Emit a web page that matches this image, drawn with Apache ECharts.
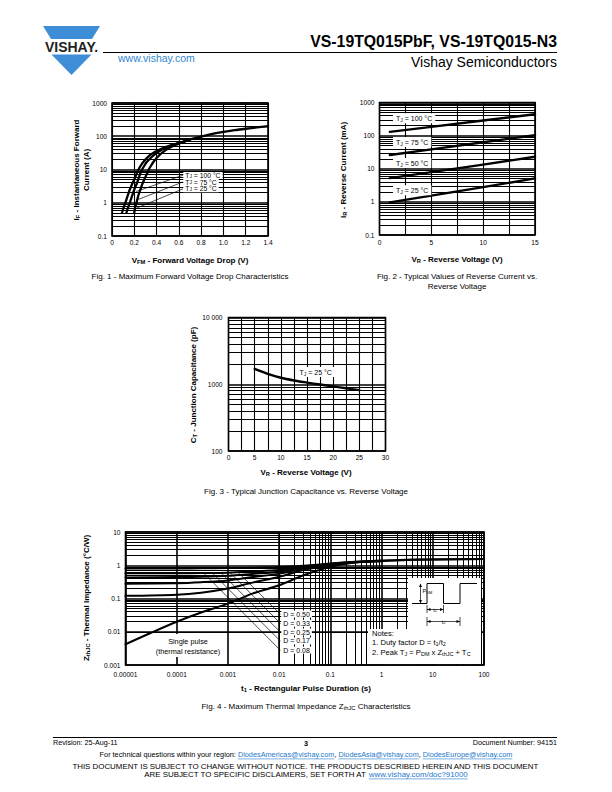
<!DOCTYPE html>
<html>
<head>
<meta charset="utf-8">
<title>VS-19TQ015PbF, VS-19TQ015-N3</title>
<script src="https://cdn.jsdelivr.net/npm/echarts@6.0.0/dist/echarts.min.js"></script>
<style>html,body{margin:0;padding:0;background:#fff;}#c{width:612px;height:792px;}</style>
</head>
<body>
<div id="c"></div>
<script>
// ================= DATA =================
// Fig. 1 - Maximum forward voltage drop (V, A)
const fig1XLabels = ['0', '0.2', '0.4', '0.6', '0.8', '1.0', '1.2', '1.4'];
const fig1YLabels = ['0.1', '1', '10', '100', '1000'];
const fig1TJ100 = [[0.09,0.5],[0.1,0.65],[0.11,0.8],[0.12,1],[0.14,1.6],[0.16,2.5],[0.18,3.6],[0.2,5],[0.22,7.3],[0.24,10.3],[0.27,15],[0.3,20],[0.34,27],[0.38,33],[0.42,38.5],[0.46,44],[0.5,50],[0.55,56],[0.6,63],[0.7,80],[0.8,98],[0.9,117],[1.0,135],[1.1,152],[1.2,168],[1.3,184],[1.4,200]];
const fig1TJ75  = [[0.13,0.5],[0.14,0.65],[0.15,0.8],[0.16,1],[0.18,1.6],[0.2,2.5],[0.22,3.6],[0.235,5],[0.25,7],[0.27,10],[0.29,13],[0.31,16.5],[0.34,21],[0.37,26],[0.4,31],[0.44,38],[0.48,44],[0.52,50],[0.56,56],[0.6,62],[0.65,70],[0.7,79]];
const fig1TJ25  = [[0.2,0.5],[0.205,0.65],[0.21,0.8],[0.22,1],[0.235,1.6],[0.255,2.5],[0.27,3.5],[0.29,5],[0.31,7],[0.33,10],[0.35,13],[0.37,16.5],[0.4,22],[0.43,28],[0.46,34],[0.5,42],[0.53,48],[0.56,53],[0.6,60],[0.65,69],[0.7,79]];
const fig1Names = ['100', '75', '25'];
const fig1LabelAnchors = [[0.64,6.7],[0.64,4.2],[0.64,2.6]];
const fig1LeaderEnds = [[0.22,2.2],[0.22,1.2],[0.225,0.7]];

// Fig. 2 - Reverse current (V, mA)
const fig2XLabels = ['0', '5', '10', '15'];
const fig2YLabels = ['0.1', '1', '10', '100', '1000'];
const fig2TJ100 = [[1,130],[5,184],[10,285],[15,440]];
const fig2TJ75  = [[1,26],[5,38.6],[10,63],[15,103]];
const fig2TJ50  = [[1,5.2],[5,7.9],[10,13.3],[15,23]];
const fig2TJ25  = [[1,0.97],[5,1.55],[10,2.8],[15,5.1]];
const fig2Names = ['100', '75', '50', '25'];
const fig2LabelAnchors = [[1.3,334],[1.3,64],[1.3,14.8],[1.3,2.26]];

// Fig. 3 - Junction capacitance (V, pF)
const fig3XLabels = ['0', '5', '10', '15', '20', '25', '30'];
const fig3YLabels = ['100', '1000', '10 000'];
const fig3TJ25 = [[5,1700],[6,1590],[7.5,1430],[10,1250],[12.5,1140],[15,1060],[17.5,990],[20,930],[22.5,870],[25,815]];
const fig3LabelAnchor = [13,1520];

// Fig. 4 - Thermal impedance (s, degC/W)
const fig4XLabels = ['0.00001', '0.0001', '0.001', '0.01', '0.1', '1', '10', '100'];
const fig4YLabels = ['0.001', '0.01', '0.1', '1', '10'];
const fig4D050 = [[1e-5,0.8],[1e-4,0.8],[3e-4,0.81],[1e-3,0.82],[3e-3,0.84],[1e-2,0.88],[3e-2,0.97],[1e-1,1.12],[3e-1,1.27],[1,1.38],[3,1.46],[10,1.5],[100,1.55]];
const fig4D033 = [[1e-5,0.57],[1e-4,0.57],[3e-4,0.58],[1e-3,0.6],[3e-3,0.65],[1e-2,0.72],[3e-2,0.9],[1e-1,1.1],[3e-1,1.26],[1,1.37]];
const fig4D025 = [[1e-5,0.43],[1e-4,0.44],[3e-4,0.45],[1e-3,0.48],[3e-3,0.55],[1e-2,0.64],[3e-2,0.85],[1e-1,1.08],[3e-1,1.25],[1,1.36]];
const fig4D017 = [[1e-5,0.28],[1e-4,0.29],[3e-4,0.31],[1e-3,0.35],[3e-3,0.44],[1e-2,0.56],[3e-2,0.8],[1e-1,1.05],[3e-1,1.24],[1,1.35]];
const fig4D008 = [[1e-5,0.12],[1e-4,0.13],[3e-4,0.15],[1e-3,0.2],[3e-3,0.3],[1e-2,0.45],[3e-2,0.72],[1e-1,1.0],[3e-1,1.22],[1,1.34]];
const fig4Single = [[1e-5,0.0042],[3e-5,0.009],[1e-4,0.02],[3e-4,0.038],[1e-3,0.07],[3e-3,0.14],[1e-2,0.25],[3e-2,0.5],[1e-1,0.9],[3e-1,1.2],[1,1.33],[3,1.45],[10,1.5],[100,1.55]];
const fig4DNames = ['0.50', '0.33', '0.25', '0.17', '0.08'];
const fig4LabelAnchors = [[0.0105,0.034],[0.0105,0.018],[0.0105,0.0098],[0.0105,0.0053],[0.0105,0.0028]];
const fig4LeaderStarts = [[1.6e-3,0.6],[1.1e-3,0.6],[7.3e-4,0.6],[4.9e-4,0.6],[3.3e-4,0.6]];

// ================= RENDER =================
const FF = '"Liberation Sans", Arial, Helvetica, sans-serif';
const font = (s, w) => (w || 'normal') + ' ' + s + 'px ' + FF;
const chart = echarts.init(document.getElementById('c'), null, {renderer: 'svg', width: 612, height: 792});

const gridBoxes = [
  {left: 112, top: 103, width: 156, height: 133},
  {left: 379.5, top: 102.5, width: 155.5, height: 132.5},
  {left: 228.5, top: 317.5, width: 157, height: 133.5},
  {left: 125.5, top: 532, width: 358.5, height: 133}
];
const grids = gridBoxes.map(g => Object.assign({show: true, borderColor: '#000', borderWidth: 1.6,
  backgroundColor: 'transparent', containLabel: false, outerBoundsMode: 'none'}, g));

function linAxis(gi, min, max, step, labels, labelStep, margin) {
  return {type: 'value', gridIndex: gi, min, max, interval: step,
    axisLine: {show: false}, axisTick: {show: false},
    splitLine: {show: true, lineStyle: {color: '#000', width: 1.1}},
    axisLabel: {fontFamily: FF, fontSize: 6.6, color: '#000', margin: margin, showMinLabel: true, showMaxLabel: true,
      formatter: v => { const k = (v - min) / labelStep; const r = Math.round(k);
        return Math.abs(k - r) < 1e-6 && labels[r] !== undefined ? labels[r] : ''; }}};
}
function logAxis(gi, min, max, labels, margin) {
  const e0 = Math.round(Math.log10(min));
  return {type: 'log', logBase: 10, gridIndex: gi, min, max, splitNumber: Math.round(Math.log10(max / min)),
    axisLine: {show: false}, axisTick: {show: false},
    splitLine: {show: true, lineStyle: {color: '#000', width: 1.6}},
    axisLabel: {fontFamily: FF, fontSize: 6.6, color: '#000', margin: margin, showMinLabel: true, showMaxLabel: true,
      formatter: v => { const l = labels[Math.round(Math.log10(v)) - e0]; return l === undefined ? '' : l; }}};
}
function minors(e0, e1) {
  const a = [];
  for (let e = e0; e < e1; e++) for (let m = 2; m <= 9; m++) a.push(+(m * Math.pow(10, e)).toPrecision(3));
  return a;
}
function gridLines(gi, xs, ys) {
  return {type: 'line', xAxisIndex: gi, yAxisIndex: gi, data: [], z: 1, silent: true, animation: false,
    markLine: {z: 1, silent: true, animation: false, symbol: ['none', 'none'], label: {show: false},
      emphasis: {disabled: true}, lineStyle: {color: '#000', width: 1, type: 'solid', opacity: 1},
      data: xs.map(v => ({xAxis: v})).concat(ys.map(v => ({yAxis: v})))}};
}
function curve(gi, data, w, smooth) {
  return {type: 'line', xAxisIndex: gi, yAxisIndex: gi, data, z: 3, symbol: 'none', showSymbol: false,
    smooth: smooth || false, silent: true, animation: false,
    lineStyle: {color: '#000', width: w, cap: 'round', join: 'round'}};
}

const series = [
  gridLines(0, [], minors(-1, 3)),
  gridLines(1, [], minors(-1, 3)),
  gridLines(2, [], minors(2, 4)),
  gridLines(3, minors(-5, 2), []),
  gridLines(3, [], minors(-3, 1)),
  curve(0, fig1TJ100, 2.3, 0.3), curve(0, fig1TJ75, 2.3, 0.3), curve(0, fig1TJ25, 2.3, 0.3),
  curve(1, fig2TJ100, 2.4), curve(1, fig2TJ75, 2.4), curve(1, fig2TJ50, 2.4), curve(1, fig2TJ25, 2.4),
  curve(2, fig3TJ25, 2.4, 0.3),
  curve(3, fig4D050, 2, 0.3), curve(3, fig4D033, 2, 0.3), curve(3, fig4D025, 2, 0.3),
  curve(3, fig4D017, 2, 0.3), curve(3, fig4D008, 2, 0.3), curve(3, fig4Single, 2, 0.3)
];
fig1LabelAnchors.forEach((a, i) => series.push(curve(0, [[a[0] - 0.005, a[1]], fig1LeaderEnds[i]], 0.7)));
fig4LabelAnchors.forEach((a, i) => series.push(curve(3, [fig4LeaderStarts[i], a], 0.7)));

const option = {
  animation: false,
  backgroundColor: '#fff',
  grid: grids,
  xAxis: [
    linAxis(0, 0, 1.4, 0.2, fig1XLabels, 0.2, 3),
    linAxis(1, 0, 15, 2.5, fig2XLabels, 5, 3.5),
    linAxis(2, 0, 30, 2.5, fig3XLabels, 5, 3),
    logAxis(3, 1e-5, 100, fig4XLabels, 6)
  ],
  yAxis: [
    logAxis(0, 0.1, 1000, fig1YLabels, 5),
    logAxis(1, 0.1, 1000, fig2YLabels, 5),
    logAxis(2, 100, 10000, fig3YLabels, 6),
    logAxis(3, 0.001, 10, fig4YLabels, 5)
  ],
  series
};
chart.setOption(option);

// ================= ANNOTATIONS / PAGE TEXT =================
const G = [];
function R(size, weight, color, lh) {
  color = color || '#000';
  const ss = +(size * 0.72).toFixed(2);
  return {n: {font: font(size, weight), fill: color, lineHeight: lh || size + 1},
          s: {font: font(ss, weight), fill: color, lineHeight: Math.round(ss), verticalAlign: 'bottom'}};
}
function T(x, y, text, o) {
  o = o || {};
  const size = o.size || 7;
  const el = {type: 'text', x, y, rotation: o.rot || 0, z: o.z || 20, silent: true,
    style: {text, font: font(size, o.weight), fill: o.color || '#000',
      align: o.align || 'center', verticalAlign: o.va || 'middle'}};
  if (o.rich) el.style.rich = R(size, o.weight, o.color, o.lh);
  if (o.bg) { el.style.backgroundColor = o.bg; el.style.padding = o.pad || [1, 2]; }
  G.push(el);
}
function L(x1, y1, x2, y2, w, c) {
  G.push({type: 'line', z: 21, silent: true, shape: {x1, y1, x2, y2}, style: {stroke: c || '#000', lineWidth: w || 1}});
}
function rect(x, y, w, h, z) {
  G.push({type: 'rect', z: z || 15, silent: true, shape: {x, y, width: w, height: h}, style: {fill: '#fff'}});
}
function poly(points, fill, z) {
  G.push({type: 'polygon', z: z || 21, silent: true, shape: {points}, style: {fill}});
}
const P = (gi, p) => chart.convertToPixel({gridIndex: gi}, p);

const AX = 8;     // axis title size
const CAP = 8;    // caption size

// Header
poly([[43,26],[100,26],[92,39],[51,39]], '#3e8ed7');
poly([[51.5,54.5],[91.5,54.5],[71.5,75]], '#3e8ed7');
T(71.5, 47, 'VISHAY.', {size: 14, weight: 'bold', color: '#222'});
T(557, 41, 'VS-19TQ015PbF, VS-19TQ015-N3', {size: 15.8, weight: 'bold', align: 'right'});
L(103, 52.5, 557, 52.5, 1);
T(118, 58, 'www.vishay.com', {size: 10.5, align: 'left', color: '#2f86d0'});
T(557, 62, 'Vishay Semiconductors', {size: 14, align: 'right'});

// Fig. 1
T(190, 260, '{n|V}{s|FM}{n| - Forward Voltage Drop (V)}', {size: AX, weight: 'bold', rich: true});
T(76, 170, '{n|I}{s|F}{n| - Instantaneous Forward}', {size: AX, weight: 'bold', rich: true, rot: Math.PI / 2});
T(86.5, 170, 'Current (A)', {size: AX, weight: 'bold', rot: Math.PI / 2});
T(190, 276, 'Fig. 1 - Maximum Forward Voltage Drop Characteristics', {size: CAP});
fig1LabelAnchors.forEach((a, i) => {
  const p = P(0, a);
  T(p[0], p[1], '{n|T}{s|J}{n| = ' + fig1Names[i] + ' °C}', {size: 6.8, rich: true, align: 'left', bg: '#fff', pad: [0, 2], lh: 6.8});
});

// Fig. 2
T(457, 259, '{n|V}{s|R}{n| - Reverse Voltage (V)}', {size: AX, weight: 'bold', rich: true});
T(343, 170, '{n|I}{s|R}{n| - Reverse Current (mA)}', {size: AX, weight: 'bold', rich: true, rot: Math.PI / 2});
T(457, 276, 'Fig. 2 - Typical Values of Reverse Current vs.', {size: CAP});
T(457, 286, 'Reverse Voltage', {size: CAP});
fig2LabelAnchors.forEach((a, i) => {
  const p = P(1, a);
  T(p[0], p[1], '{n|T}{s|J}{n| = ' + fig2Names[i] + ' °C}', {size: 7, rich: true, align: 'left', bg: '#fff', pad: [1, 3]});
});

// Fig. 3
T(306, 472, '{n|V}{s|R}{n| - Reverse Voltage (V)}', {size: AX, weight: 'bold', rich: true});
T(193, 385, '{n|C}{s|T}{n| - Junction Capacitance (pF)}', {size: AX, weight: 'bold', rich: true, rot: Math.PI / 2});
T(306, 491, 'Fig. 3 - Typical Junction Capacitance vs. Reverse Voltage', {size: CAP});
(() => { const p = P(2, fig3LabelAnchor);
  T(p[0], p[1], '{n|T}{s|J}{n| = 25 °C}', {size: 7, rich: true, align: 'left', bg: '#fff', pad: [1, 3]}); })();

// Fig. 4
T(306, 688, '{n|t}{s|1}{n| - Rectangular Pulse Duration (s)}', {size: AX, weight: 'bold', rich: true});
T(86, 598, '{n|Z}{s|thJC}{n| - Thermal Impedance (°C/W)}', {size: AX, weight: 'bold', rich: true, rot: Math.PI / 2});
T(306, 706, '{n|Fig. 4 - Maximum Thermal Impedance Z}{s|thJC}{n| Characteristics}', {size: CAP, rich: true});
fig4LabelAnchors.forEach((a, i) => {
  const p = P(3, a);
  T(p[0] + 1, p[1], 'D = ' + fig4DNames[i], {size: 7, align: 'left', bg: '#fff', pad: [0, 2]});
});
// Single pulse box
rect(152, 634, 72, 23);
T(188, 641.5, 'Single pulse', {size: 7.3});
T(188, 651.5, '(thermal resistance)', {size: 7.3});
// Notes + waveform inset
rect(408, 578, 73, 52);
rect(368, 629, 113, 35);
T(372, 633.5, 'Notes:', {size: 7.6, align: 'left'});
T(372, 642.5, '{n|1. Duty factor D = t}{s|1}{n|/t}{s|2}', {size: 7.6, align: 'left', rich: true, lh: 8});
T(372, 652, '{n|2. Peak T}{s|J}{n| = P}{s|DM}{n| x Z}{s|thJC}{n| + T}{s|C}', {size: 7.6, align: 'left', rich: true, lh: 8});
G.push({type: 'polyline', z: 21, silent: true,
  shape: {points: [[412,603.5],[427,603.5],[427,583.5],[443.5,583.5],[443.5,603.5],[460,603.5],[460,583.5],[477,583.5]]},
  style: {stroke: '#000', fill: null, lineWidth: 1}});
L(420.5, 584, 420.5, 603, 0.7);
poly([[420.5,583.5],[419,587],[422,587]], '#000');
poly([[420.5,603.5],[419,600],[422,600]], '#000');
T(422.5, 591, '{n|P}{s|DM}', {size: 5.5, align: 'left', rich: true});
L(427, 605, 427, 613, 0.7); L(443.5, 605, 443.5, 613, 0.7);
L(427, 609.5, 443.5, 609.5, 0.7);
poly([[427,609.5],[430.5,608],[430.5,611]], '#000');
poly([[443.5,609.5],[440,608],[440,611]], '#000');
T(435.2, 609.5, '{n|t}{s|1}', {size: 5.5, rich: true, bg: '#fff', pad: [0, 1]});
L(427, 617, 427, 626, 0.7); L(460, 617, 460, 626, 0.7);
L(427, 621.5, 460, 621.5, 0.7);
poly([[427,621.5],[430.5,620],[430.5,623]], '#000');
poly([[460,621.5],[456.5,620],[456.5,623]], '#000');
T(443.5, 621.5, '{n|t}{s|2}', {size: 5.5, rich: true, bg: '#fff', pad: [0, 2]});

// Footer
L(53, 737.5, 557, 737.5, 1);
T(53, 742.5, 'Revision: 25-Aug-11', {size: 7.2, align: 'left'});
T(306, 743, '3', {size: 7.2, weight: 'bold'});
T(557, 742.5, 'Document Number: 94151', {size: 7.2, align: 'right'});
const mctx = document.createElement('canvas').getContext('2d');
function segLine(y, segs, size) {
  mctx.font = font(size);
  const widths = segs.map(s => mctx.measureText(s[0]).width);
  let x = 306 - widths.reduce((a, b) => a + b, 0) / 2;
  segs.forEach((s, i) => {
    T(x, y, s[0], {size, align: 'left', color: s[1] ? '#1f78c8' : '#000'});
    if (s[1]) L(x, y + 4.4, x + widths[i], y + 4.4, 0.6, '#1f78c8');
    x += widths[i];
  });
}
segLine(754.5, [['For technical questions within your region: ', 0], ['DiodesAmericas@vishay.com', 1], [', ', 0],
  ['DiodesAsia@vishay.com', 1], [', ', 0], ['DiodesEurope@vishay.com', 1]], 7.3);
segLine(766, [['THIS DOCUMENT IS SUBJECT TO CHANGE WITHOUT NOTICE. THE PRODUCTS DESCRIBED HEREIN AND THIS DOCUMENT', 0]], 7.9);
segLine(774.5, [['ARE SUBJECT TO SPECIFIC DISCLAIMERS, SET FORTH AT ', 0], ['www.vishay.com/doc?91000', 1]], 7.9);

chart.setOption({graphic: G});
</script>
</body>
</html>
